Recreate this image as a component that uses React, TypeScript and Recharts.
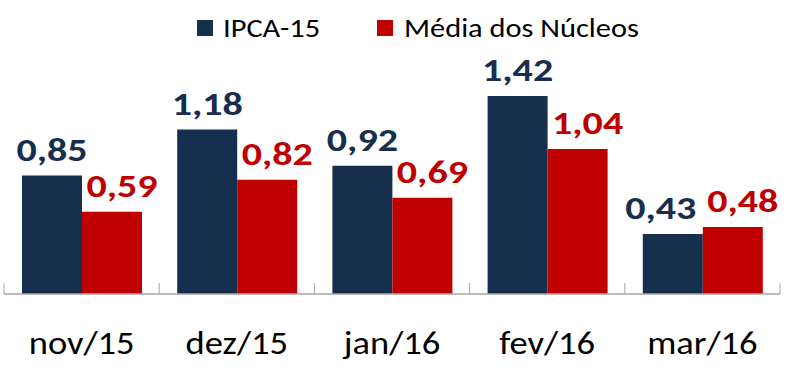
import React from 'react';
import { BarChart, Bar, XAxis, YAxis, LabelList } from 'recharts';

const categories = ['nov/15', 'dez/15', 'jan/16', 'fev/16', 'mar/16'];
const ipca15 = [0.85, 1.18, 0.92, 1.42, 0.43];
const mediaNucleos = [0.59, 0.82, 0.69, 1.04, 0.48];
const seriesNames = ['IPCA-15', 'Média dos Núcleos'];

const NAVY = '#172f4f';
const RED = '#c00000';
const FONT = 'Calibri, Carlito, Lato, sans-serif';

const data = categories.map((c, i) => ({ cat: c, ipca: ipca15[i], media: mediaNucleos[i] }));

const fmt = (v: number) => v.toFixed(2).replace('.', ',');

const makeLabel = (color: string, baseDx: number, lastDx: number) => (props: any) => {
  const { x, y, width, value, index } = props;
  const dx = index === categories.length - 1 ? lastDx : baseDx;
  const cx = x + width / 2 + dx;
  const cy = y - 15;
  return (
    <text
      transform={`translate(${cx},${cy}) scale(1.25,1)`}
      x={0}
      y={0}
      textAnchor="middle"
      fill={color}
      fontFamily={FONT}
      fontWeight="bold"
      fontSize={32}
    >
      {fmt(value)}
    </text>
  );
};

const CatTick = (props: any) => {
  const { x, y, payload, index } = props;
  const off = payload && typeof payload.offset === 'number' ? payload.offset : 77.6;
  const last = index === categories.length - 1;
  return (
    <g>
      <line x1={x - off} x2={x - off} y1={y} y2={y - 11} stroke="#a6a6a6" strokeWidth={1} />
      {last && <line x1={x + off} x2={x + off} y1={y} y2={y - 11} stroke="#a6a6a6" strokeWidth={1} />}
      <text
        transform={`translate(${x},${y + 60}) scale(1.14,1)`}
        x={0}
        y={0}
        textAnchor="middle"
        fill="#000"
        fontFamily={FONT}
        fontSize={32}
      >
        {payload.value}
      </text>
    </g>
  );
};

const legendText: React.CSSProperties = {
  position: 'absolute',
  top: 12,
  lineHeight: '32px',
  whiteSpace: 'nowrap',
  transform: 'scaleX(1.17)',
  transformOrigin: 'left center',
};

const LegendBox = () => (
  <div style={{ position: 'absolute', left: 0, top: 0, width: 786, height: 44, fontFamily: FONT, fontSize: 26, color: '#000' }}>
    <div style={{ position: 'absolute', left: 197, top: 20, width: 16, height: 16, background: NAVY }} />
    <div style={{ ...legendText, left: 223 }}>{seriesNames[0]}</div>
    <div style={{ position: 'absolute', left: 377, top: 20, width: 16, height: 16, background: RED }} />
    <div style={{ ...legendText, left: 404 }}>{seriesNames[1]}</div>
  </div>
);

export default function App() {
  return (
    <div style={{ position: 'absolute', left: 0, top: 0, width: 786, height: 370, background: '#fff' }}>
      <BarChart
        width={786}
        height={370}
        data={data}
        margin={{ top: 71, right: 6, bottom: 0, left: 4 }}
        barCategoryGap={18}
        barGap={0}
      >
        <XAxis
          dataKey="cat"
          height={76}
          axisLine={{ stroke: '#a6a6a6', strokeWidth: 1.5 }}
          tickLine={false}
          tickSize={0}
          tickMargin={0}
          tick={<CatTick />}
          interval={0}
        />
        <YAxis hide domain={[0, 1.6]} allowDataOverflow width={0} />
        <Bar dataKey="ipca" name={seriesNames[0]} fill={NAVY} isAnimationActive={false}>
          <LabelList dataKey="ipca" content={makeLabel(NAVY, 0, -12)} />
        </Bar>
        <Bar dataKey="media" name={seriesNames[1]} fill={RED} isAnimationActive={false}>
          <LabelList dataKey="media" content={makeLabel(RED, 10, 10)} />
        </Bar>
      </BarChart>
      <LegendBox />
    </div>
  );
}
